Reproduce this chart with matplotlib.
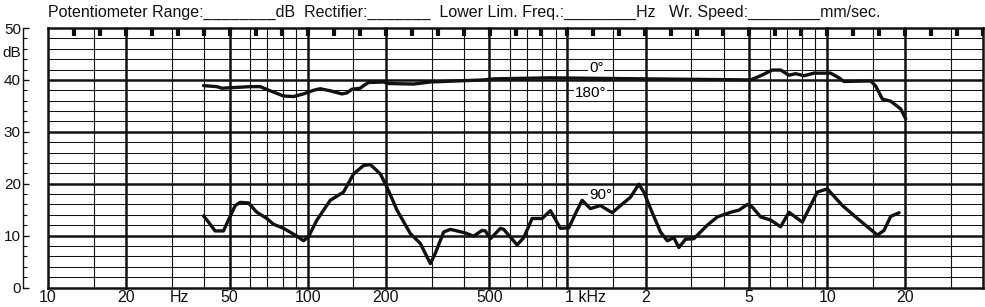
import numpy as np
import matplotlib.pyplot as plt
from matplotlib.transforms import blended_transform_factory

plt.rcParams['font.family'] = ['Liberation Sans', 'DejaVu Sans']

# 0 deg / 180 deg response (upper trace)
freq_0 = [39.7, 44.7, 46.7, 60.0, 65.6, 71.7, 80.7, 88.2, 96.3, 105.3, 111.7, 122.1,
          135.4, 141.6, 148.0, 159.4, 164.1, 171.5, 196, 204.8, 255.7, 296.6, 476, 520,
          860, 2000, 5072, 5543, 6150, 6620, 7125, 7561, 8139, 8895, 10316, 11105,
          11608, 14713, 15380, 16322, 17564, 19195, 20068]
db_0 = [38.9, 38.7, 38.4, 38.7, 38.7, 37.9, 36.9, 36.8, 37.3, 38.0, 38.3, 37.9,
        37.3, 37.5, 38.2, 38.4, 38.9, 39.5, 39.6, 39.3, 39.2, 39.6, 40.0, 40.2,
        40.4, 40.2, 40.0, 40.8, 41.9, 41.9, 40.9, 41.2, 40.8, 41.3, 41.3, 40.4,
        39.7, 39.8, 38.8, 36.3, 35.9, 34.4, 32.5]

# 90 deg response (lower trace)
freq_90 = [39.7, 41.5, 44.0, 47.4, 49.5, 52.6, 54.9, 59.1, 63.7, 69.6, 73.8, 80.7,
           90.9, 96.3, 100.7, 108.5, 122.1, 137.4, 150.2, 164.1, 174.1, 190.3, 202,
           220.7, 248.3, 271.3, 296.6, 310, 333.7, 354.2, 375.8, 404.6, 435.6, 469.3,
           483.1, 505, 552, 568.4, 640.1, 678.7, 731.1, 798.9, 860, 939.7, 1012,
           1073, 1139, 1226, 1340, 1487, 1601, 1749, 1883, 1968, 2089, 2282, 2423,
           2568, 2685, 2849, 3066, 3454, 3775, 4248, 4573, 4927, 5149, 5543, 6058,
           6620, 7125, 8022, 9166, 10018, 11445, 13077, 15614, 16555, 17564, 18914]
db_90 = [13.8, 12.6, 10.9, 10.9, 13.0, 15.8, 16.4, 16.3, 14.5, 13.3, 12.2, 11.4,
         9.9, 9.0, 9.8, 13.0, 16.8, 18.4, 21.9, 23.5, 23.7, 21.9, 19.3,
         14.9, 10.4, 8.5, 4.6, 6.6, 10.7, 11.2, 10.9, 10.5, 9.9, 11.0,
         10.9, 9.4, 11.4, 11.2, 8.2, 9.6, 13.3, 13.3, 14.8, 11.4, 11.5,
         14.2, 16.8, 15.2, 15.8, 14.4, 15.8, 17.4, 19.9, 18.4, 15.2, 10.7, 9.0,
         9.6, 7.7, 9.3, 9.4, 12.0, 13.6, 14.5, 14.9, 16.0, 15.5, 13.6, 13.0,
         11.7, 14.5, 12.6, 18.4, 19.0, 15.8, 13.3, 10.1, 11.0, 13.7, 14.4]

# chart paper
major_f = [10, 20, 50, 100, 200, 500, 1000, 2000, 5000, 10000, 20000]
minor_f = [15, 30, 40, 60, 70, 80, 90, 150, 300, 400, 600, 700, 800, 900,
           1500, 3000, 4000, 6000, 7000, 8000, 9000, 15000, 30000]
xlabel_f = [10, 20, 32, 50, 100, 200, 500, 1000, 2000, 5000, 10000, 20000]
xlabel_txt = ['10', '20', 'Hz', '50', '100', '200', '500', '1 kHz', '2', '5', '10', '20']
marker_f = [10 * 10 ** (k / 10) for k in range(1, 37)]

header = ("Potentiometer Range:________dB  Rectifier:_______  Lower Lim. Freq.:________Hz"
          "   Wr. Speed:________mm/sec.")

fig = plt.figure(figsize=(9.85, 3.07), dpi=100)
ax = fig.add_axes([48 / 985, 19.5 / 307, 935 / 985, 259.5 / 307])
ax.set_xscale('log')
ax.set_xlim(10, 10 ** 4.6)
ax.set_ylim(0, 50)

ink = '#111111'
# horizontal grid
for y in range(2, 50, 2):
    thick = y % 10 == 0
    ax.axhline(y, color=ink, lw=1.8 if thick else 0.75, zorder=1)
# vertical grid
for f in major_f:
    ax.axvline(f, color=ink, lw=1.8, zorder=1, clip_on=False)
for f in minor_f:
    ax.axvline(f, color=ink, lw=0.8, zorder=1)
# markers under top edge
ax.vlines(marker_f, 48.4, 50, color=ink, lw=3.0, zorder=2)

ax.plot(freq_0, db_0, color=ink, lw=2.4, solid_joinstyle='round', solid_capstyle='round', zorder=3)
ax.plot(freq_90, db_90, color=ink, lw=2.4, solid_joinstyle='round', solid_capstyle='round', zorder=3)

box = dict(facecolor='white', edgecolor='none', pad=0.5)
ax.text(1293, 42.2, '0°', fontsize=11, ha='center', va='center', bbox=box, zorder=4)
ax.text(1226, 37.5, '180°', fontsize=11, ha='center', va='center', bbox=box, zorder=4)
ax.text(1340, 17.9, '90°', fontsize=11, ha='center', va='center', bbox=box, zorder=4)

for s in ['top', 'right', 'bottom']:
    ax.spines[s].set_linewidth(1.8)
    ax.spines[s].set_color(ink)
ax.spines['left'].set_position(('outward', 18))   # ~25 px at 100 dpi
ax.spines['left'].set_linewidth(1.0)
ax.spines['left'].set_color(ink)

ax.set_xticks([])
ax.set_xticks([], minor=True)
ax.set_yticks([0, 10, 20, 30, 40, 50])
ax.set_yticks(range(0, 51, 2), minor=True)
ax.set_yticklabels(['0', '10', '20', '30', '40', '50'])
ax.tick_params(axis='y', which='major', direction='in', length=4.5, width=1.0, pad=1.5,
               labelsize=11, colors=ink)
ax.tick_params(axis='y', which='minor', direction='in', length=3, width=0.8, colors=ink)
ax.text(-27 / 935, 45.1, 'dB', transform=blended_transform_factory(ax.transAxes, ax.transData),
        fontsize=11, ha='right', va='center', color=ink, clip_on=False)

tr = blended_transform_factory(ax.transData, ax.transAxes)
for f, t in zip(xlabel_f, xlabel_txt):
    ha = 'left' if t == '1 kHz' else 'center'
    xo = f * 0.975 if t == '1 kHz' else f
    ax.text(xo, -10 / 259.5, t, transform=tr, fontsize=11.5, ha=ha, va='center', color=ink)

fig.text(48 / 985, 1 - 12 / 307, header, fontsize=11.5, ha='left', va='center', color=ink)

fig.savefig('out.png', dpi=100)
